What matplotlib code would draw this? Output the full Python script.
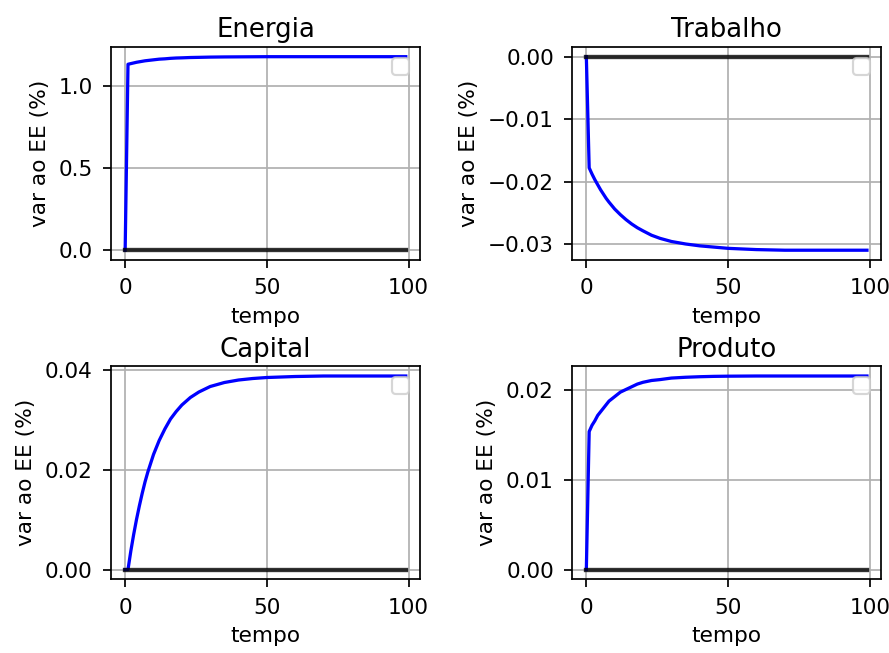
import numpy as np
import matplotlib
matplotlib.use('Agg')
import matplotlib.pyplot as plt

# time samples (periods after the shock)
t = [0, 1, 2, 3, 4, 5, 6, 7, 8, 10, 12, 14, 16, 18, 20, 23, 26, 30, 35,
     40, 45, 50, 60, 70, 80, 90, 99]

# deviations from steady state (%)
energia = [0, 1.130, 1.134, 1.138, 1.142, 1.145, 1.148, 1.151, 1.153, 1.157,
           1.161, 1.163, 1.166, 1.168, 1.169, 1.171, 1.172, 1.1735, 1.1745,
           1.175, 1.1755, 1.176, 1.176, 1.176, 1.176, 1.176, 1.176]
trabalho = [0, -0.0178, -0.0188, -0.0197, -0.0205, -0.0213, -0.0220, -0.0227,
            -0.0233, -0.0244, -0.0253, -0.0261, -0.0268, -0.0274, -0.0279,
            -0.0286, -0.0291, -0.0296, -0.0300, -0.0303, -0.0305, -0.0307,
            -0.0309, -0.0310, -0.0310, -0.0310, -0.0310]
capital = [0, 0.0, 0.0037, 0.0070, 0.0100, 0.0127, 0.0152, 0.0175, 0.0195,
           0.0230, 0.0258, 0.0281, 0.0301, 0.0316, 0.0329, 0.0344, 0.0355,
           0.0366, 0.0374, 0.0379, 0.0382, 0.0384, 0.0386, 0.0387, 0.0387,
           0.0387, 0.0387]
produto = [0, 0.0154, 0.0161, 0.0166, 0.0172, 0.0176, 0.0180, 0.0184, 0.0188,
           0.0193, 0.0198, 0.0201, 0.0204, 0.0207, 0.0209, 0.0211, 0.0212,
           0.02137, 0.02146, 0.02152, 0.02156, 0.02158, 0.0216, 0.0216,
           0.0216, 0.0216, 0.0216]

titles = ['Energia', 'Trabalho', 'Capital', 'Produto']
series = [energia, trabalho, capital, produto]
xticks = [0, 50, 100]
yticks = [[0.0, 0.5, 1.0],
          [0.0, -0.01, -0.02, -0.03],
          [0.0, 0.02, 0.04],
          [0.0, 0.01, 0.02]]

plt.rcParams['xtick.major.pad'] = 5
plt.rcParams['ytick.major.pad'] = 5

dpi = 156
fig = plt.figure(figsize=(889/dpi, 653/dpi), dpi=dpi)
for i in range(4):
    ax = fig.add_subplot(2, 2, i+1)
    ax.plot(t, series[i], color='b', lw=1.5)
    ax.plot(t, np.zeros(len(t)), color='k', lw=2, alpha=0.8)
    ax.set_title(titles[i], pad=4.5)
    ax.set_xlabel('tempo')
    ax.set_ylabel('var ao EE (%)')
    ax.set_xticks(xticks)
    ax.set_yticks(yticks[i])
    ax.grid(True)
    ax.legend(loc='upper right')

plt.subplots_adjust(left=0.125, right=0.991, top=0.928, bottom=0.113,
                    wspace=0.494, hspace=0.50)
plt.savefig('out.png', dpi=dpi)
